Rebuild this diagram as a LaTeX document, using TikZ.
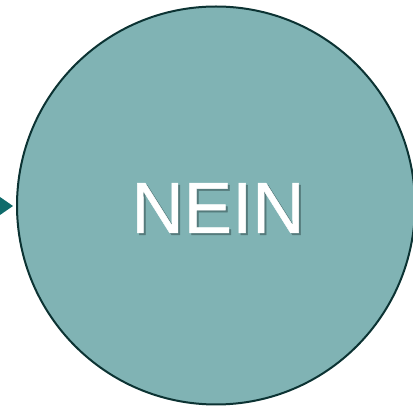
\documentclass[tikz,border=0pt]{standalone}
\usepackage{fontspec}
\setmainfont{Liberation Sans}
\newfontfamily\neinfont[FakeBold=0.6]{Liberation Sans}
\definecolor{circfill}{HTML}{80B3B4}
\definecolor{circline}{HTML}{0C3333}
\definecolor{arrowcol}{HTML}{0F6B6B}
\definecolor{shadowcol}{HTML}{557B7C}
\newcommand{\shadowtext}[1]{\makebox[0pt][l]{\hspace{2pt}\raisebox{-2pt}{\color{shadowcol}#1}}#1}
\begin{document}
\begin{tikzpicture}[x=1pt,y=1pt,
  bigcircle/.style={circle, draw=circline, line width=2pt, fill=circfill, minimum size=398pt, inner sep=0pt},
  label/.style={font=\neinfont\fontsize{72.5}{72.5}\selectfont, text=white, inner sep=0pt, anchor=base}]
\useasboundingbox (0,0) rectangle (413,407);
\node[bigcircle] (c) at (216,201.5) {};
\fill[arrowcol] (0,210) -- (13,201) -- (0,192) -- cycle;
\node[label] (t) at (218,174) {\shadowtext{NEIN}};
\end{tikzpicture}
\end{document}
